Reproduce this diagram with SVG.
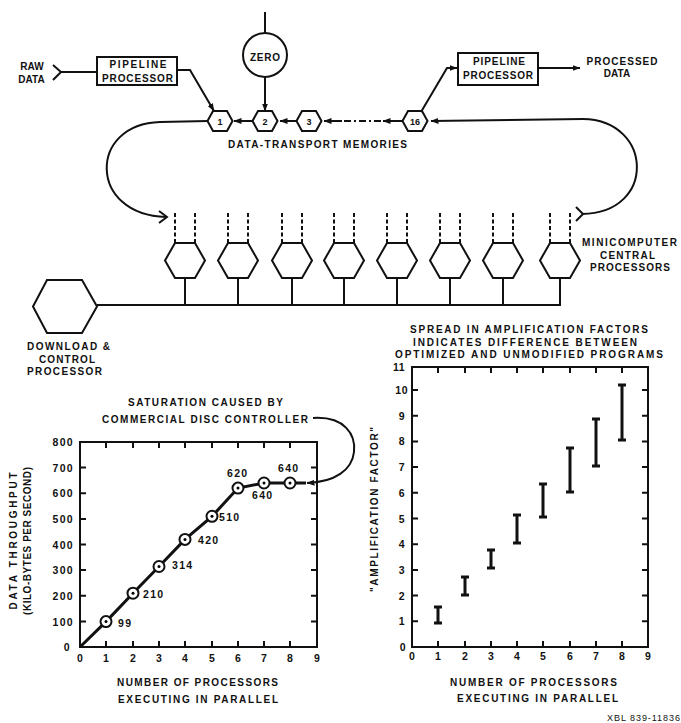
<svg xmlns="http://www.w3.org/2000/svg" width="681" height="723" viewBox="0 0 681 723">
<defs>
<style>
.t{font-family:"Liberation Sans",Arial,sans-serif;font-weight:bold;font-size:10px;fill:#111}
.n{font-family:"Liberation Sans",Arial,sans-serif;font-weight:bold;font-size:9px;fill:#111}
.d{font-family:"Liberation Sans",Arial,sans-serif;font-weight:bold;font-size:10.5px;letter-spacing:1.3px;fill:#111}
.m{text-anchor:middle}
.e{text-anchor:end}
.ln{fill:none;stroke:#111;stroke-width:2}
.sh{fill:#fff;stroke:#111;stroke-width:2}
.dash{fill:none;stroke:#111;stroke-width:2;stroke-dasharray:4 2.5}
.ax{fill:none;stroke:#111;stroke-width:2}
.cv{fill:none;stroke:#111;stroke-width:3}
.pt{fill:#fff;stroke:#111;stroke-width:2}
</style>
<marker id="ah" viewBox="0 0 8 6" refX="7.5" refY="3" markerWidth="8" markerHeight="6" markerUnits="userSpaceOnUse" orient="auto"><path d="M0,0 L8,3 L0,6 z" fill="#111"/></marker>
<polygon id="memhex" points="-12.5,0 -7,-10 7,-10 12.5,0 7,10 -7,10"/>
<polygon id="cpuhex" points="-20,0 -10,-17.5 10,-17.5 20,0 10,17.5 -10,17.5"/>
</defs>
<rect width="681" height="723" fill="#fff"/>

<!-- Nodes -->
<g id="zero">
<circle cx="265" cy="55" r="22" class="sh"/>
<text x="265" y="61" class="t m" textLength="30" lengthAdjust="spacing">ZERO</text>
</g>
<g id="raw-data">
<text x="32" y="70" class="t m">RAW</text>
<text x="31.5" y="83" class="t m">DATA</text>
</g>
<g id="pipeline1">
<rect x="97" y="57" width="80" height="28" class="sh"/>
<text x="138" y="68" class="t m" textLength="57" lengthAdjust="spacing">PIPELINE</text>
<text x="137.5" y="82" class="t m" textLength="71" lengthAdjust="spacing">PROCESSOR</text>
</g>
<g id="pipeline2">
<rect x="458" y="53" width="80" height="32" class="sh"/>
<text x="499" y="65" class="t m" textLength="52" lengthAdjust="spacing">PIPELINE</text>
<text x="498" y="79" class="t m" textLength="70" lengthAdjust="spacing">PROCESSOR</text>
</g>
<g id="processed-data">
<text x="622" y="65" class="t m" textLength="71" lengthAdjust="spacing">PROCESSED</text>
<text x="617" y="77" class="t m">DATA</text>
</g>
<g id="mem1"><use href="#memhex" x="220" y="121" class="sh"/><text x="220" y="125" class="n m">1</text></g>
<g id="mem2"><use href="#memhex" x="265" y="121" class="sh"/><text x="265" y="125" class="n m">2</text></g>
<g id="mem3"><use href="#memhex" x="309" y="121" class="sh"/><text x="309" y="125" class="n m">3</text></g>
<g id="mem16"><use href="#memhex" x="415" y="121" class="sh"/><text x="415" y="125" class="n m">16</text></g>
<g id="dtm-label">
<text x="317.5" y="148" class="t m" textLength="179" lengthAdjust="spacing">DATA-TRANSPORT MEMORIES</text>
</g>

<g id="cpu1"><use href="#cpuhex" x="185" y="260.5" class="sh"/></g>
<g id="cpu2"><use href="#cpuhex" x="238" y="260.5" class="sh"/></g>
<g id="cpu3"><use href="#cpuhex" x="292" y="260.5" class="sh"/></g>
<g id="cpu4"><use href="#cpuhex" x="344" y="260.5" class="sh"/></g>
<g id="cpu5"><use href="#cpuhex" x="397" y="260.5" class="sh"/></g>
<g id="cpu6"><use href="#cpuhex" x="450" y="260.5" class="sh"/></g>
<g id="cpu7"><use href="#cpuhex" x="503" y="260.5" class="sh"/></g>
<g id="cpu8"><use href="#cpuhex" x="560" y="260.5" class="sh"/></g>
<g id="cpu-label">
<text x="629.5" y="246" class="t m" textLength="95" lengthAdjust="spacing">MINICOMPUTER</text>
<text x="627.5" y="259" class="t m" textLength="55" lengthAdjust="spacing">CENTRAL</text>
<text x="630" y="271" class="t m" textLength="80" lengthAdjust="spacing">PROCESSORS</text>
</g>
<g id="download">
<polygon points="33,306.5 47,280 82,280 97,306.5 82,333 47,333" class="sh"/>
<text x="68.5" y="350" class="t m" textLength="83" lengthAdjust="spacing">DOWNLOAD &amp;</text>
<text x="67" y="363" class="t m" textLength="56" lengthAdjust="spacing">CONTROL</text>
<text x="64.5" y="375" class="t m" textLength="75" lengthAdjust="spacing">PROCESSOR</text>
</g>

<!-- Connectors -->
<g id="connectors">
<line x1="265" y1="12" x2="265" y2="33" class="ln"/>
<line x1="265" y1="77" x2="265" y2="111" class="ln" marker-end="url(#ah)"/>
<polyline points="53,65 61,72 53,80" class="ln"/>
<line x1="61" y1="72" x2="97" y2="72" class="ln"/>
<polyline points="177,70 190,70 214,111" class="ln" marker-end="url(#ah)"/>
<line x1="253" y1="121" x2="234" y2="121" class="ln" marker-end="url(#ah)"/>
<line x1="296" y1="121" x2="280" y2="121" class="ln" marker-end="url(#ah)"/>
<line x1="403" y1="121" x2="383" y2="121" class="ln" marker-end="url(#ah)"/>
<line x1="381" y1="121" x2="342" y2="121" class="ln" stroke-dasharray="7 3 2 3"/>
<line x1="342" y1="121" x2="324" y2="121" class="ln" marker-end="url(#ah)"/>
<polyline points="421,112 447,68 457,68" class="ln" marker-end="url(#ah)"/>
<line x1="538" y1="68" x2="580" y2="68" class="ln" marker-end="url(#ah)"/>
<path d="M583,119 L431,121" class="ln" marker-end="url(#ah)"/>
<path d="M583,119 C653,120 657,213 582,214" class="ln"/>
<polyline points="576,207 583,214 576,221" class="ln"/>
<path d="M208,121 L160,122 C88,124 88,215 166,217" class="ln"/>
<polyline points="159,211 167,217 159,223" class="ln"/>
<g class="dash">
<path d="M175,213 V243 M195,213 V243"/>
<path d="M228,213 V243 M248,213 V243"/>
<path d="M282,213 V243 M302,213 V243"/>
<path d="M334,213 V243 M354,213 V243"/>
<path d="M387,213 V243 M407,213 V243"/>
<path d="M440,213 V243 M460,213 V243"/>
<path d="M493,213 V243 M513,213 V243"/>
<path d="M550,213 V243 M570,213 V243"/>
</g>
<path d="M97,305 H560 V278 M185,278 V305 M238,278 V305 M292,278 V305 M344,278 V305 M397,278 V305 M450,278 V305 M503,278 V305" class="ln"/>
<path d="M313,418 C345,416 356,435 354,452 C352,470 335,482 307,483" class="ln" marker-end="url(#ah)"/>
</g>

<!-- Left chart -->
<g id="chart-left">
<text x="205.5" y="406" class="t m" textLength="155" lengthAdjust="spacing">SATURATION CAUSED BY</text>
<text x="205" y="423" class="t m" textLength="206" lengthAdjust="spacing">COMMERCIAL DISC CONTROLLER</text>
<rect x="80" y="442" width="237" height="205" class="ax"/>
<path class="ax" d="M80,621.4h6M80,595.7h6M80,570.1h6M80,544.5h6M80,518.9h6M80,493.2h6M80,467.6h6
M317,621.4h-6M317,595.7h-6M317,570.1h-6M317,544.5h-6M317,518.9h-6M317,493.2h-6M317,467.6h-6
M106,647v-6M133,647v-6M159,647v-6M185,647v-6M212,647v-6M238,647v-6M264,647v-6M290,647v-6
M106,442v6M133,442v6M159,442v6M185,442v6M212,442v6M238,442v6M264,442v6M290,442v6"/>
<g class="d e">
<text x="74" y="446">800</text><text x="74" y="472">700</text><text x="74" y="497">600</text>
<text x="74" y="523">500</text><text x="74" y="549">400</text><text x="74" y="574">300</text>
<text x="74" y="600">200</text><text x="74" y="626">100</text><text x="71" y="651">0</text>
</g>
<g class="d m" style="letter-spacing:0">
<text x="80" y="662">0</text><text x="106" y="662">1</text><text x="133" y="662">2</text>
<text x="159" y="662">3</text><text x="185" y="662">4</text><text x="212" y="662">5</text>
<text x="238" y="662">6</text><text x="264" y="662">7</text><text x="290" y="662">8</text>
<text x="317" y="662">9</text>
</g>
<text transform="translate(17,541) rotate(-90)" class="t m" textLength="137" lengthAdjust="spacing">DATA THROUGHPUT</text>
<text transform="translate(31,541) rotate(-90)" class="t m" textLength="148" lengthAdjust="spacing">(KILO-BYTES PER SECOND)</text>
<polyline class="cv" points="80,647 106,621.6 133,593.2 159,566.5 185,539.4 212,516.3 238,488.1 264,483 290,483 306,483"/>
<g>
<circle cx="106" cy="621.6" r="5.5" class="pt"/><circle cx="106" cy="621.6" r="1.5"/>
<circle cx="133" cy="593.2" r="5.5" class="pt"/><circle cx="133" cy="593.2" r="1.5"/>
<circle cx="159" cy="566.5" r="5.5" class="pt"/><circle cx="159" cy="566.5" r="1.5"/>
<circle cx="185" cy="539.4" r="5.5" class="pt"/><circle cx="185" cy="539.4" r="1.5"/>
<circle cx="212" cy="516.3" r="5.5" class="pt"/><circle cx="212" cy="516.3" r="1.5"/>
<circle cx="238" cy="488.1" r="5.5" class="pt"/><circle cx="238" cy="488.1" r="1.5"/>
<circle cx="264" cy="483" r="5.5" class="pt"/><circle cx="264" cy="483" r="1.5"/>
<circle cx="290" cy="483" r="5.5" class="pt"/><circle cx="290" cy="483" r="1.5"/>
</g>
<g class="d">
<text x="118" y="627">99</text>
<text x="143" y="598">210</text>
<text x="172" y="569">314</text>
<text x="198" y="544">420</text>
<text x="219" y="521">510</text>
<text x="227" y="477">620</text>
<text x="252" y="499">640</text>
<text x="278" y="472">640</text>
</g>
<text x="197.5" y="686" class="t m" textLength="161" lengthAdjust="spacing">NUMBER OF PROCESSORS</text>
<text x="198" y="703" class="t m" textLength="160" lengthAdjust="spacing">EXECUTING IN PARALLEL</text>
</g>

<!-- Right chart -->
<g id="chart-right">
<text x="529" y="333" class="t m" textLength="238" lengthAdjust="spacing">SPREAD IN AMPLIFICATION FACTORS</text>
<text x="525" y="346" class="t m" textLength="224" lengthAdjust="spacing">INDICATES DIFFERENCE BETWEEN</text>
<text x="529" y="358" class="t m" textLength="268" lengthAdjust="spacing">OPTIMIZED AND UNMODIFIED PROGRAMS</text>
<rect x="412" y="367" width="236" height="280" class="ax"/>
<path class="ax" d="M412,621.3h6M412,595.6h6M412,569.9h6M412,544.2h6M412,518.5h6M412,492.8h6M412,467.1h6M412,441.4h6M412,415.7h6M412,390h6
M648,621.3h-6M648,595.6h-6M648,569.9h-6M648,544.2h-6M648,518.5h-6M648,492.8h-6M648,467.1h-6M648,441.4h-6M648,415.7h-6M648,390h-6
M438,647v-6M465,647v-6M491,647v-6M517,647v-6M543,647v-6M570,647v-6M596,647v-6M622,647v-6
M438,367v6M465,367v6M491,367v6M517,367v6M543,367v6M570,367v6M596,367v6M622,367v6"/>
<g class="d e" style="letter-spacing:0.5px">
<text x="405" y="371">11</text><text x="408" y="394">10</text><text x="405" y="419.7">9</text>
<text x="405" y="445.4">8</text><text x="405" y="471.1">7</text><text x="405" y="496.8">6</text>
<text x="405" y="522.5">5</text><text x="405" y="548.2">4</text><text x="405" y="573.9">3</text>
<text x="405" y="599.6">2</text><text x="405" y="625.3">1</text><text x="406" y="651">0</text>
</g>
<g class="d m" style="letter-spacing:0">
<text x="412" y="660">0</text><text x="438" y="660">1</text><text x="465" y="660">2</text>
<text x="491" y="660">3</text><text x="517" y="660">4</text><text x="543" y="660">5</text>
<text x="570" y="660">6</text><text x="596" y="660">7</text><text x="622" y="660">8</text>
<text x="648" y="660">9</text>
</g>
<text transform="translate(378,509.5) rotate(-90)" class="t m" textLength="165" lengthAdjust="spacing">"AMPLIFICATION FACTOR"</text>
<path class="cv" d="M438,607V623M434,607h8M434,623h8
M465,577V595M461,577h8M461,595h8
M491,550V568M487,550h8M487,568h8
M517,515V543M513,515h8M513,543h8
M543,484V517M539,484h8M539,517h8
M570,448V492M566,448h8M566,492h8
M596,419V466M592,419h8M592,466h8
M622,385V440M618,385h8M618,440h8"/>
<text x="533.5" y="686" class="t m" textLength="167" lengthAdjust="spacing">NUMBER OF PROCESSORS</text>
<text x="537.5" y="702" class="t m" textLength="161" lengthAdjust="spacing">EXECUTING IN PARALLEL</text>
</g>
<text x="680" y="721" text-anchor="end" font-family="Liberation Sans,Arial,sans-serif" font-size="9" fill="#111" textLength="73" lengthAdjust="spacing">XBL 839-11836</text>
</svg>
